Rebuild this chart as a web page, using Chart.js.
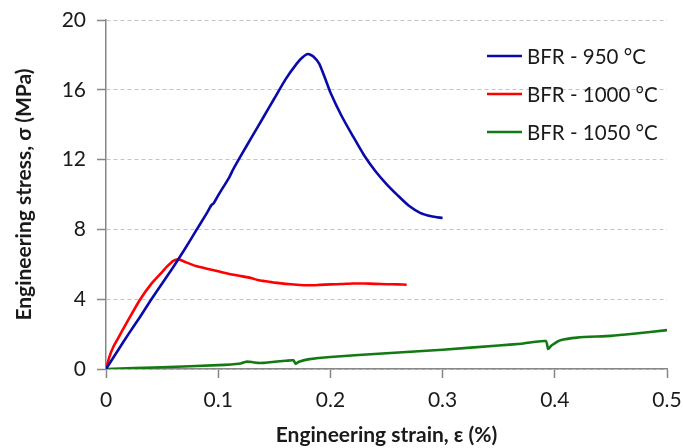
<!DOCTYPE html>
<html>
<head>
<meta charset="utf-8">
<script src="https://cdn.jsdelivr.net/npm/chart.js@4/dist/chart.umd.min.js"></script>
<style>
html,body{margin:0;padding:0;background:#fff;}
#wrap{width:683px;height:448px;position:relative;}
</style>
</head>
<body>
<div id="wrap"><canvas id="c" width="683" height="448"></canvas></div>
<script>
// ---- data ----
const seriesLabels = ["BFR - 950 °C", "BFR - 1000 °C", "BFR - 1050 °C"];

const strain950 = [0, 0.01, 0.02, 0.03, 0.04, 0.05, 0.06, 0.07, 0.08, 0.09, 0.094, 0.096, 0.1, 0.11, 0.113, 0.12, 0.13, 0.14, 0.15, 0.16, 0.17, 0.175, 0.18, 0.185, 0.19, 0.195, 0.2, 0.21, 0.22, 0.23, 0.24, 0.25, 0.26, 0.27, 0.28, 0.29, 0.3];
const stress950 = [0, 1.0, 2.0, 2.95, 3.95, 4.9, 5.85, 6.85, 7.9, 8.95, 9.4, 9.5, 9.95, 11.0, 11.4, 12.2, 13.3, 14.4, 15.5, 16.6, 17.5, 17.85, 18.05, 17.9, 17.5, 16.7, 15.85, 14.5, 13.35, 12.25, 11.35, 10.6, 9.95, 9.35, 8.95, 8.75, 8.65];

const strain1000 = [0, 0.003, 0.0065, 0.01, 0.018, 0.02, 0.03, 0.04, 0.05, 0.054, 0.06, 0.065, 0.07, 0.08, 0.09, 0.1, 0.11, 0.12, 0.13, 0.135, 0.14, 0.15, 0.16, 0.17, 0.18, 0.19, 0.2, 0.21, 0.22, 0.23, 0.24, 0.25, 0.26, 0.268];
const stress1000 = [0, 0.7, 1.26, 1.67, 2.6, 2.83, 3.94, 4.85, 5.55, 5.85, 6.2, 6.28, 6.15, 5.9, 5.75, 5.6, 5.45, 5.33, 5.2, 5.1, 5.05, 4.95, 4.88, 4.83, 4.8, 4.82, 4.85, 4.87, 4.9, 4.9, 4.88, 4.86, 4.85, 4.83];

const strain1050 = [0, 0.05, 0.1, 0.12, 0.125, 0.13, 0.135, 0.14, 0.15, 0.16, 0.167, 0.169, 0.172, 0.18, 0.2, 0.25, 0.3, 0.35, 0.37, 0.392, 0.394, 0.397, 0.405, 0.42, 0.45, 0.47, 0.5];
const stress1050 = [0, 0.1, 0.22, 0.32, 0.42, 0.4, 0.35, 0.35, 0.42, 0.47, 0.5, 0.3, 0.42, 0.55, 0.69, 0.9, 1.1, 1.35, 1.45, 1.6, 1.15, 1.35, 1.65, 1.8, 1.9, 2.02, 2.23];

const xTicks = [0, 0.1, 0.2, 0.3, 0.4, 0.5];
const yTicks = [0, 4, 8, 12, 16, 20];

const colors = ["#0a0aa8", "#ff0000", "#137a13"];

function pts(xs, ys){ return xs.map((x,i)=>({x:x, y:ys[i]})); }

const legendPlugin = {
  id: 'insideLegend',
  afterDraw(chart){
    const ctx = chart.ctx;
    const rows = [56, 94, 132];
    ctx.save();
    ctx.font = '20.5px Lato';
    ctx.textBaseline = 'middle';
    ctx.textAlign = 'left';
    chart.data.datasets.forEach((ds,i)=>{
      const y = rows[i];
      ctx.strokeStyle = ds.borderColor;
      ctx.lineWidth = 2.5;
      ctx.beginPath(); ctx.moveTo(487,y); ctx.lineTo(522,y); ctx.stroke();
      ctx.fillStyle = '#1a1a1a';
      ctx.fillText(ds.label, 527, y+1);
    });
    ctx.restore();
  }
};

new Chart(document.getElementById('c'), {
  type: 'scatter',
  data: {
    datasets: [
      {label: seriesLabels[0], data: pts(strain950, stress950)},
      {label: seriesLabels[1], data: pts(strain1000, stress1000)},
      {label: seriesLabels[2], data: pts(strain1050, stress1050)}
    ].map((d,i)=>Object.assign(d,{showLine:true, borderColor:colors[i], backgroundColor:colors[i], borderWidth:2.6, pointRadius:0, tension:0.2}))
  },
  options: {
    responsive:false,
    animation:false,
    layout:{padding:{top:20,right:16,left:0,bottom:0}},
    plugins:{legend:{display:false}, tooltip:{enabled:false}},
    scales:{
      x:{
        type:'linear', min:0, max:0.5,
        afterBuildTicks(s){ s.ticks = xTicks.map(v=>({value:v})); },
        afterFit(s){ s.height = 79; s.paddingLeft = 0; s.paddingRight = 0; },
        ticks:{font:{family:'Lato',size:21}, color:'#1a1a1a', padding:10, callback:v=>String(v)},
        grid:{drawOnChartArea:false, drawTicks:true, tickLength:9, tickColor:'#868686', tickWidth:1.5},
        border:{color:'#868686', width:1.5},
        title:{display:true, text:'Engineering strain, ε (%)', font:{family:'Lato',size:21,weight:'bold'}, color:'#1a1a1a', padding:{top:4,bottom:0}}
      },
      y:{
        type:'linear', min:0, max:20,
        afterBuildTicks(s){ s.ticks = yTicks.map(v=>({value:v})); },
        afterFit(s){ s.width = 106; s.paddingTop = 0; s.paddingBottom = 0; },
        ticks:{font:{family:'Lato',size:21}, color:'#1a1a1a', padding:11},
        grid:{color:'#c4c4c4', lineWidth:1, tickLength:9, tickColor:'#868686', tickWidth:1.5, tickBorderDash:[]},
        border:{color:'#868686', width:1.5, dash:[4,3]},
        title:{display:true, text:'Engineering stress, σ (MPa)', font:{family:'Lato',size:21,weight:'bold'}, color:'#1a1a1a', padding:{top:12,bottom:0}}
      }
    }
  },
  plugins:[legendPlugin]
});
</script>
</body>
</html>
